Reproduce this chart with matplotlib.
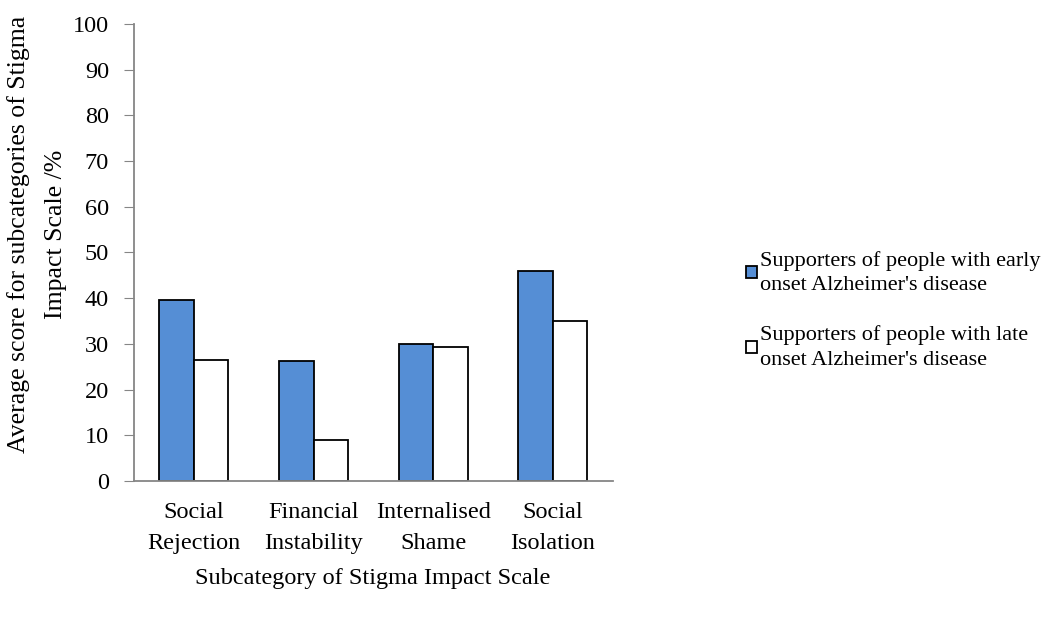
import numpy as np
import matplotlib.pyplot as plt

plt.rcParams['font.family'] = ['Liberation Serif', 'DejaVu Serif']

# Stigma Impact Scale subcategory scores (%)
categories = ["Social\nRejection", "Financial\nInstability", "Internalised\nShame", "Social\nIsolation"]
early_onset = [39.7, 26.2, 30.0, 45.9]
late_onset = [26.5, 8.9, 29.3, 35.0]
series_labels = ["Supporters of people with early\nonset Alzheimer's disease",
                 "Supporters of people with late\nonset Alzheimer's disease"]

fs = 17.5

fig = plt.figure(figsize=(10.51, 6.23), dpi=100)
ax = fig.add_axes([0.1275, 0.228, 0.4555, 0.7335])

x = np.arange(len(categories))
width = 0.288
b1 = ax.bar(x - width / 2, early_onset, width, color='#558ed5', edgecolor='black', linewidth=1.3,
            label=series_labels[0])
b2 = ax.bar(x + width / 2, late_onset, width, color='white', edgecolor='black', linewidth=1.3,
            label=series_labels[1])

ax.set_xlim(-0.5, len(categories) - 0.5)
ax.set_ylim(0, 100)
ax.set_yticks(range(0, 101, 10))
ax.set_xticks(x)
ax.set_xticklabels(categories, fontsize=fs, linespacing=1.65)
ax.tick_params(axis='y', labelsize=fs, length=7, color='#868686', pad=11)
ax.tick_params(axis='x', length=0, pad=15)

for side in ('top', 'right'):
    ax.spines[side].set_visible(False)
for side in ('left', 'bottom'):
    ax.spines[side].set_color('#868686')
    ax.spines[side].set_linewidth(1.3)

fig.text(0.355, 0.072, "Subcategory of Stigma Impact Scale", ha='center', va='center', fontsize=fs)
fig.text(0.035, 0.624, "Average score for subcategories of Stigma\nImpact Scale /%", ha='center',
         va='center', rotation=90, fontsize=18.5, linespacing=1.9)

leg = fig.legend(handles=[b1, b2], loc='upper left', bbox_to_anchor=(0.701, 0.612), frameon=False,
                 handlelength=0.5, handleheight=0.5, handletextpad=0.15,
                 labelspacing=1.35, borderaxespad=0, prop={'size': 16})
for t in leg.get_texts():
    t.set_linespacing(1.42)

fig.savefig("out.png", dpi=100)
